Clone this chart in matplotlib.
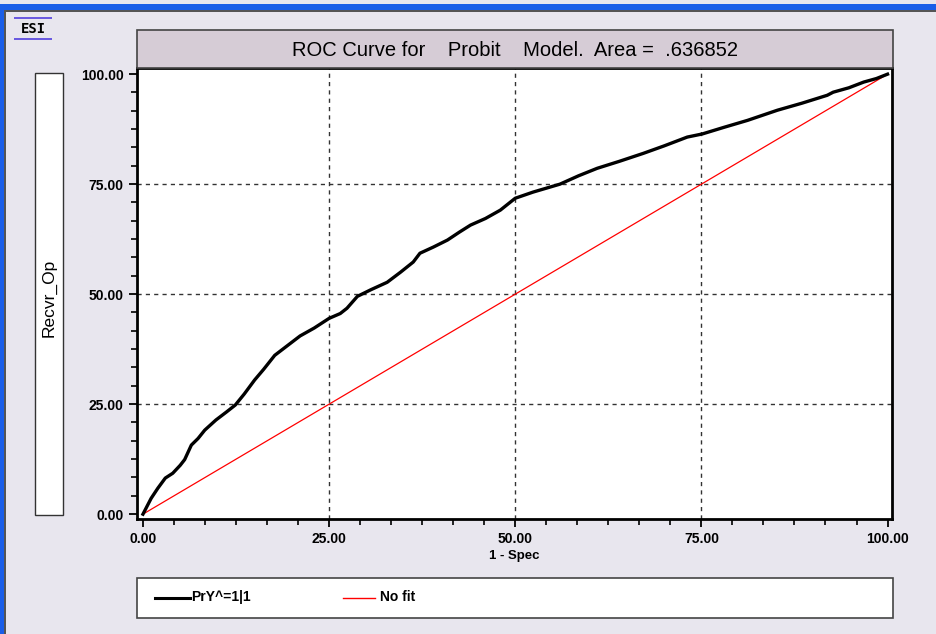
import matplotlib.pyplot as plt
from matplotlib.patches import Rectangle
from matplotlib.lines import Line2D
from matplotlib.ticker import MultipleLocator

plt.rcParams['font.family'] = ['Liberation Sans', 'DejaVu Sans']

# ROC curve (1 - Spec, Recvr_Op), in percent
spec = [0, 1.1, 2.0, 3.0, 4.0, 5.0, 5.6, 6.5, 7.4, 8.3, 9.8, 11.2, 12.4, 13.6, 15.0,
        16.2, 17.7, 19.4, 21.1, 23.0, 25.0, 26.5, 27.4, 28.8, 30.6, 32.8, 34.6,
        36.3, 37.2, 39.0, 40.9, 42.5, 44.0, 46.0, 48.0, 50.0, 52.4, 56.0, 58.5,
        61.0, 64.0, 67.2, 70.0, 73.1, 75.1, 78.0, 81.2, 85.2, 88.5, 91.9, 92.7,
        94.8, 96.8, 98.5, 100]
recvr = [0, 3.6, 5.9, 8.2, 9.3, 11.1, 12.4, 15.7, 17.2, 19.1, 21.4, 23.2, 24.8,
         27.3, 30.5, 32.9, 36.1, 38.3, 40.5, 42.3, 44.5, 45.6, 46.8, 49.5, 51.0,
         52.7, 55.0, 57.3, 59.3, 60.7, 62.3, 64.1, 65.7, 67.2, 69.1, 71.8, 73.2,
         75.0, 76.9, 78.6, 80.2, 82.0, 83.7, 85.7, 86.4, 87.9, 89.5, 91.8, 93.4,
         95.2, 95.9, 96.9, 98.2, 99.0, 100]
nofit_x = [0, 100]
nofit_y = [0, 100]
ticks = [0, 25, 50, 75, 100]
tick_labels = ['0.00', '25.00', '50.00', '75.00', '100.00']

W, H = 937, 634
bg = '#e8e6ee'
fig = plt.figure(figsize=(W / 100, H / 100), dpi=100, facecolor=bg)


def box(x0, y0, x1, y1, **kw):
    # rectangle in pixel coords (top-left origin)
    r = Rectangle((x0 / W, 1 - y1 / H), (x1 - x0) / W, (y1 - y0) / H,
                  transform=fig.transFigure, **kw)
    fig.patches.append(r)


# window frame
box(0, 4, W, 10, facecolor='#1a5ee8', edgecolor='none')
box(0, 10, W, 12, facecolor='#555555', edgecolor='none')
box(0, 4, 4, H, facecolor='#1a5ee8', edgecolor='none')
box(4, 10, 6, H, facecolor='#555555', edgecolor='none')

# title bar
box(137, 30, 893, 68, facecolor='#d6ccd6', edgecolor='#444444', linewidth=1.2)
fig.text(515 / W, 1 - 50 / H, 'ROC Curve for    Probit    Model.  Area =  .636852',
         ha='center', va='center', fontsize=14.5)

# y label box
box(35, 73, 63, 515, facecolor='white', edgecolor='#333333', linewidth=1)
fig.text(49 / W, 1 - 298 / H, 'Recvr_Op', rotation=90, ha='center', va='center',
         fontsize=12.5)

# ESI icon
box(14, 17, 52, 19, facecolor='#6a5ae0', edgecolor='none')
box(14, 38, 52, 40, facecolor='#6a5ae0', edgecolor='none')
fig.text(33 / W, 1 - 29 / H, 'ESI', ha='center', va='center', fontsize=10,
         fontweight='bold', family='DejaVu Sans Mono')

ax = fig.add_axes([137 / W, 1 - 519 / H, (892 - 137) / W, (519 - 68) / H])
ax.plot(nofit_x, nofit_y, color='#ff0000', lw=0.9, zorder=3)
ax.plot(spec, recvr, color='black', lw=2.4, zorder=4)

ax.set_xlim(-0.8, 100.6)
ax.set_ylim(-1.1, 101.4)
ax.set_xticks(ticks)
ax.set_xticklabels(tick_labels)
ax.set_yticks(ticks)
ax.set_yticklabels(tick_labels)
ax.xaxis.set_minor_locator(MultipleLocator(25 / 6))
ax.yaxis.set_minor_locator(MultipleLocator(25 / 6))
ax.tick_params(which='major', direction='out', length=6, width=1.3, labelsize=10)
ax.tick_params(which='minor', direction='out', length=4, width=1.2)
for lab in ax.get_xticklabels() + ax.get_yticklabels():
    lab.set_fontweight('bold')
for s in ax.spines.values():
    s.set_linewidth(2)
for v in [25, 50, 75]:
    ax.axvline(v, color='#333333', lw=1, ls=(0, (3, 3)), zorder=1)
    ax.axhline(v, color='#333333', lw=1, ls=(0, (3, 3)), zorder=1)
ax.set_xlabel('1 - Spec', fontsize=9.5, fontweight='bold', labelpad=3)

# legend box
box(137, 578, 893, 618, facecolor='white', edgecolor='#444444', linewidth=1.2)
fig.lines.append(Line2D([155 / W, 190 / W], [1 - 598 / H] * 2, color='black', lw=2.2,
                        transform=fig.transFigure))
fig.text(191 / W, 1 - 597 / H, 'PrY^=1|1', va='center', fontsize=10, fontweight='bold')
fig.lines.append(Line2D([343 / W, 375 / W], [1 - 598 / H] * 2, color='#ff0000', lw=1,
                        transform=fig.transFigure))
fig.text(380 / W, 1 - 597 / H, 'No fit', va='center', fontsize=10, fontweight='bold')

fig.savefig('out.png', dpi=100, facecolor=bg)
